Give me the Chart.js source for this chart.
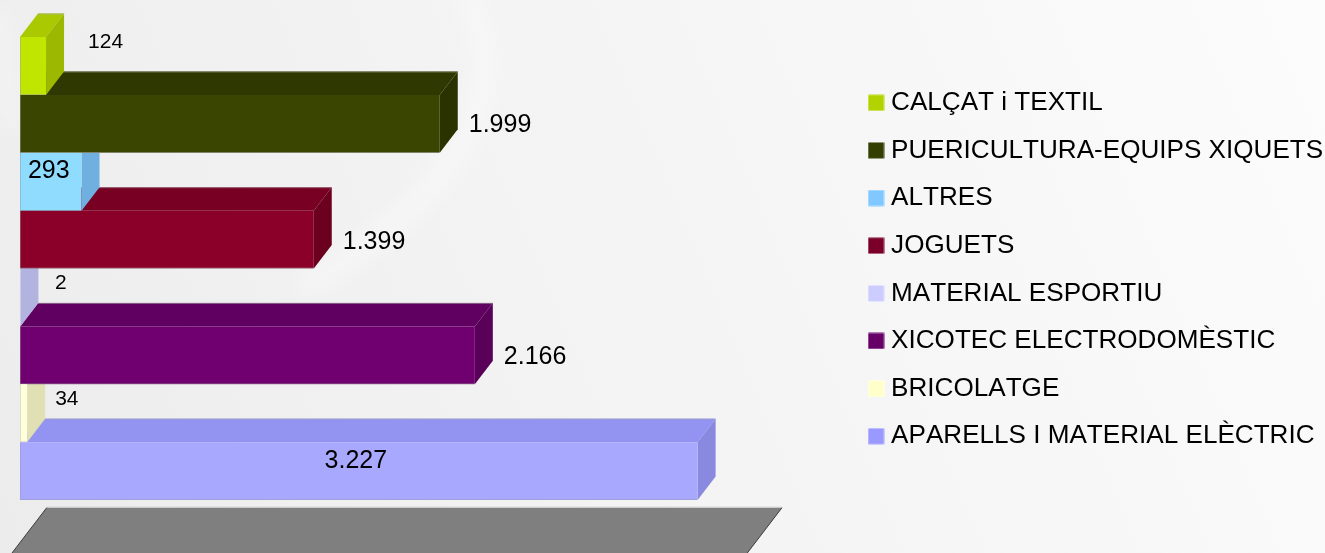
<!DOCTYPE html>
<html>
<head>
<meta charset="utf-8">
<script src="https://cdn.jsdelivr.net/npm/chart.js@4/dist/chart.umd.js"></script>
<style>
html,body{margin:0;padding:0;background:#f6f6f6;overflow:hidden}
#wrap{width:1325px;height:553px;position:relative}
canvas{display:block}
</style>
</head>
<body>
<div id="wrap"><canvas id="c" width="1325" height="553"></canvas></div>
<script>
const categories = ['CALÇAT i TEXTIL','PUERICULTURA-EQUIPS XIQUETS','ALTRES','JOGUETS','MATERIAL ESPORTIU','XICOTEC ELECTRODOMÈSTIC','BRICOLATGE','APARELLS I MATERIAL ELÈCTRIC'];
const values = [124,1999,293,1399,2,2166,34,3227];
const valueLabels = ['124','1.999','293','1.399','2','2.166','34','3.227'];

const legendColors = ['#b3d300','#333f00','#80c8ff','#7b0029','#ccccff','#660066','#ffffcc','#9999ff'];
const frontColors  = ['#c0e600','#394500','#8fdcff','#8a0029','#d8d8ff','#700070','#ffffdc','#a8a8ff'];
const topColors    = ['#abc900','#2f3800','#7cc0ee','#780023','#bcbce8','#600060','#eeeec4','#9393f2'];
const sideColors   = ['#9cb800','#2a3300','#70b0e0','#6b001f','#b3b3e0','#590059','#e0e0b4','#8989e0'];
const edgeColors   = ['#a8b868','#808468','#8ab0c8','#9a6678','#a8a8cc','#8a668a','#d0d0b8','#9c9ccc'];

// label placement relative to the bar's right end / centre (style only, px)
const labelDx   = [42,29,-53.6,29,34.6,29,28,-373];
const labelDy   = [-25,0,-12,2,-15,1,-15,-11];
const labelSize = [21,25,25,25,21,25,21,25];

const DEPTH_X = 18, DEPTH_Y = 23.5;

function poly(ctx, pts, fill){
  ctx.beginPath();
  pts.forEach((p,i)=> i ? ctx.lineTo(p[0],p[1]) : ctx.moveTo(p[0],p[1]));
  ctx.closePath();
  ctx.fillStyle = fill;
  ctx.fill();
}

const backdrop = {
  id:'backdrop',
  beforeDraw(chart){
    const {ctx,width,height} = chart;
    ctx.fontKerning = 'none';
    ctx.save();
    const g = ctx.createLinearGradient(0,height,width,0);
    g.addColorStop(0,'#ececec');
    g.addColorStop(0.35,'#f2f2f2');
    g.addColorStop(0.7,'#f7f7f7');
    g.addColorStop(1,'#fcfcfc');
    ctx.fillStyle = g;
    ctx.fillRect(0,0,width,height);
    ctx.filter = 'blur(12px)';
    ctx.strokeStyle = 'rgba(255,255,255,0.55)';
    ctx.lineWidth = 16;
    ctx.beginPath();
    ctx.moveTo(462,-10);
    ctx.bezierCurveTo(520,80,470,190,300,290);
    ctx.stroke();
    ctx.lineWidth = 12;
    ctx.beginPath();
    ctx.moveTo(-4,10);
    ctx.lineTo(10,130);
    ctx.stroke();
    ctx.restore();
  }
};

const depthFaces = {
  id:'depthFaces',
  beforeDatasetsDraw(chart){
    const {ctx,chartArea,height} = chart;
    const meta = chart.getDatasetMeta(0);
    ctx.save();
    // floor
    const fy = chartArea.bottom + 7.7, fl = chartArea.left + 26.7, fr = 782, run = (height + 1 - fy) * DEPTH_X / DEPTH_Y;
    poly(ctx,[[fl,fy],[fr,fy],[fr-run,height+1],[fl-run,height+1]],'#7f7f7f');
    ctx.lineWidth = 1;
    ctx.strokeStyle = '#c8c8c8';
    ctx.beginPath(); ctx.moveTo(fl,fy-0.5); ctx.lineTo(fr,fy-0.5); ctx.stroke();
    ctx.strokeStyle = '#3c3c3c';
    ctx.beginPath(); ctx.moveTo(fl,fy); ctx.lineTo(fl-run,height+1); ctx.stroke();
    ctx.beginPath(); ctx.moveTo(fr,fy); ctx.lineTo(fr-run,height+1); ctx.stroke();
    // bars: bottom one first, so that upper bars overlap the faces below
    for(let i = meta.data.length-1; i>=0; i--){
      const b = meta.data[i].getProps(['x','y','base','height'],true);
      const l = b.base, r = b.x, t = b.y - b.height/2, bt = b.y + b.height/2;
      poly(ctx,[[l,t],[l+DEPTH_X,t-DEPTH_Y],[r+DEPTH_X,t-DEPTH_Y],[r,t]],topColors[i]);
      poly(ctx,[[r,t],[r+DEPTH_X,t-DEPTH_Y],[r+DEPTH_X,bt-DEPTH_Y],[r,bt]],sideColors[i]);
      ctx.strokeStyle = edgeColors[i];
      ctx.lineWidth = 1;
      ctx.beginPath();
      ctx.moveTo(l+DEPTH_X,t-DEPTH_Y+0.5);
      ctx.lineTo(r+DEPTH_X,t-DEPTH_Y+0.5);
      ctx.stroke();
    }
    ctx.restore();
  }
};

const valueText = {
  id:'valueText',
  afterDatasetsDraw(chart){
    const {ctx} = chart;
    const meta = chart.getDatasetMeta(0);
    ctx.save();
    ctx.fillStyle = '#000';
    ctx.textAlign = 'left';
    ctx.textBaseline = 'middle';
    meta.data.forEach((el,i)=>{
      const b = el.getProps(['x','y'],true);
      ctx.font = labelSize[i]+'px "Liberation Sans"';
      ctx.fillText(valueLabels[i], b.x + labelDx[i], b.y + labelDy[i] + 1);
    });
    ctx.restore();
  }
};

const legendPlace = {
  id:'legendPlace',
  afterLayout(chart){
    const lg = chart.legend, w = lg.right - lg.left;
    lg.left = 852.5; lg.right = lg.left + w;
    lg.top += 1; lg.bottom += 1;
  }
};

function swatch(color){
  const c = document.createElement('canvas');
  c.width = 17; c.height = 17;
  const x = c.getContext('2d');
  x.fillStyle = 'rgba(255,255,255,0.7)';
  x.fillRect(0,0,17,17);
  x.fillStyle = color;
  x.fillRect(0.5,0.5,16,16);
  return c;
}

new Chart(document.getElementById('c'),{
  type:'bar',
  data:{
    labels:categories,
    datasets:[{
      data:values,
      backgroundColor:frontColors,
      borderColor:edgeColors,
      borderWidth:{left:1,bottom:1,top:0,right:0},
      borderSkipped:false,
      barPercentage:1,
      categoryPercentage:1
    }]
  },
  plugins:[backdrop,depthFaces,valueText,legendPlace],
  options:{
    indexAxis:'y',
    responsive:false,
    animation:false,
    layout:{padding:{left:20,top:37,bottom:53,right:0}},
    scales:{
      x:{display:false,min:0,max:3935,grid:{display:false}},
      y:{display:false,grid:{display:false}}
    },
    plugins:{
      tooltip:{enabled:false},
      title:{display:false},
      legend:{
        display:true,
        position:'right',
        align:'center',
        labels:{
          font:{family:'"Liberation Sans"',size:26.1},
          color:'#000',
          padding:21.54,
          usePointStyle:true,
          pointStyleWidth:4,
          boxHeight:16,
          generateLabels(){
            return categories.map((t,i)=>({text:t,pointStyle:swatch(legendColors[i]),hidden:false,index:i,fillStyle:legendColors[i],strokeStyle:legendColors[i],lineWidth:0}));
          }
        }
      }
    }
  }
});
</script>
</body>
</html>
